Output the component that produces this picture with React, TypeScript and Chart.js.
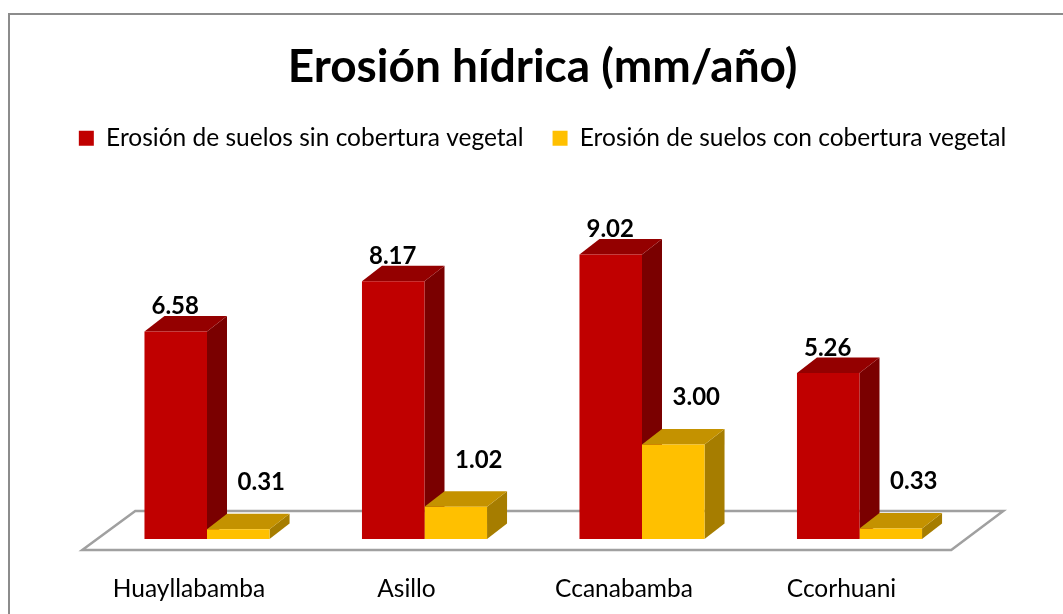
import React, { useEffect, useRef } from 'react';
import { Chart, registerables } from 'chart.js';

Chart.register(...registerables);

const titleText = 'Erosión hídrica (mm/año)';
const categories = ['Huayllabamba', 'Asillo', 'Ccanabamba', 'Ccorhuani'];
const seriesNames = [
  'Erosión de suelos sin cobertura vegetal',
  'Erosión de suelos con cobertura vegetal',
];
const sinCobertura = [6.58, 8.17, 9.02, 5.26];
const conCobertura = [0.31, 1.02, 3.0, 0.33];

const FONT = 'Lato';
const DEPTH_X = 20;
const DEPTH_Y = -15.5;

const faceColors = [
  { front: '#C00000', top: '#940000', side: '#7A0000' },
  { front: '#FFC000', top: '#C49200', side: '#A67D00' },
];
const labelShift = [
  { dx: -0.5, dy: -25 },
  { dx: 23, dy: -47 },
];

const poly = (ctx: CanvasRenderingContext2D, pts: number[][], fill: string) => {
  ctx.beginPath();
  ctx.moveTo(pts[0][0], pts[0][1]);
  for (let i = 1; i < pts.length; i++) ctx.lineTo(pts[i][0], pts[i][1]);
  ctx.closePath();
  ctx.fillStyle = fill;
  ctx.fill();
};

const threeD = {
  id: 'threeD',
  beforeDatasetsDraw(chart: any) {
    const { ctx, chartArea } = chart;
    const { left, right, bottom } = chartArea;
    ctx.save();
    // floor
    ctx.beginPath();
    ctx.moveTo(left - 16, bottom + 11);
    ctx.lineTo(right - 17, bottom + 11);
    ctx.lineTo(right + 35, bottom - 28);
    ctx.lineTo(left + 37, bottom - 28);
    ctx.closePath();
    ctx.fillStyle = '#FFFFFF';
    ctx.fill();
    ctx.lineWidth = 2.5;
    ctx.strokeStyle = '#A0A0A0';
    ctx.stroke();
    // extrusions: per category, red then yellow
    const n = chart.data.labels.length;
    for (let i = 0; i < n; i++) {
      for (let d = 0; d < chart.data.datasets.length; d++) {
        const meta = chart.getDatasetMeta(d);
        const el = meta.data[i];
        if (!el) continue;
        const { x, y, base, width } = el.getProps(['x', 'y', 'base', 'width'], true);
        const l = x - width / 2;
        const r = x + width / 2;
        const c = faceColors[d];
        poly(ctx, [[r, y], [r + DEPTH_X, y + DEPTH_Y], [r + DEPTH_X, base + DEPTH_Y], [r, base]], c.side);
        poly(ctx, [[l, y], [l + DEPTH_X, y + DEPTH_Y], [r + DEPTH_X, y + DEPTH_Y], [r, y]], c.top);
      }
    }
    ctx.restore();
  },
  afterDatasetsDraw(chart: any) {
    const { ctx } = chart;
    ctx.save();
    ctx.font = `bold 24px ${FONT}`;
    ctx.fillStyle = '#000000';
    ctx.textAlign = 'center';
    ctx.textBaseline = 'middle';
    chart.data.datasets.forEach((ds: any, d: number) => {
      const meta = chart.getDatasetMeta(d);
      meta.data.forEach((el: any, i: number) => {
        const { x, y } = el.getProps(['x', 'y'], true);
        ctx.fillText(Number(ds.data[i]).toFixed(2), x + labelShift[d].dx, y + labelShift[d].dy);
      });
    });
    ctx.restore();
  },
};

export default function App() {
  const ref = useRef<HTMLCanvasElement | null>(null);
  useEffect(() => {
    if (!ref.current) return;
    const chart = new Chart(ref.current, {
      type: 'bar',
      data: {
        labels: categories,
        datasets: [
          {
            label: seriesNames[0],
            data: sinCobertura,
            backgroundColor: faceColors[0].front,
            borderWidth: 0,
          },
          {
            label: seriesNames[1],
            data: conCobertura,
            backgroundColor: faceColors[1].front,
            borderWidth: 0,
          },
        ],
      },
      options: {
        animation: false,
        responsive: false,
        devicePixelRatio: 1,
        layout: { padding: { left: 30, right: 8, top: 0, bottom: 0 } },
        datasets: { bar: { barPercentage: 1, categoryPercentage: 0.575 } },
        plugins: {
          tooltip: { enabled: false },
          title: {
            display: true,
            text: titleText,
            color: '#000000',
            font: { family: FONT, size: 46, weight: 'bold', lineHeight: 1.2 },
            padding: { top: 40, bottom: 1.8 },
          },
          legend: {
            display: true,
            position: 'top',
            labels: {
              color: '#000000',
              font: { family: FONT, size: 24.5 },
              boxWidth: 15,
              boxHeight: 15,
              padding: 29,
            },
          },
        },
        scales: {
          x: {
            offset: true,
            grid: { display: false, drawTicks: false },
            border: { display: false },
            ticks: {
              color: '#000000',
              font: { family: FONT, size: 24.5 },
              padding: 35,
              labelOffset: -18,
            },
            afterFit: (s: any) => {
              s.height = 75;
            },
          },
          y: {
            min: 0,
            max: 12,
            grid: { display: false, drawTicks: false },
            border: { display: false },
            ticks: { display: false },
            afterFit: (s: any) => {
              s.width = 68.25;
            },
          },
          y2: {
            position: 'right',
            grid: { display: false, drawTicks: false },
            border: { display: false },
            ticks: { display: false },
            afterFit: (s: any) => {
              s.width = 86.75;
            },
          },
        },
      },
      plugins: [threeD],
    });
    return () => chart.destroy();
  }, []);

  return (
    <div style={{ position: 'fixed', left: 0, top: 0, width: 1063, height: 614, overflow: 'hidden', background: '#FFFFFF' }}>
      <div
        style={{
          position: 'absolute',
          left: 8,
          top: 13,
          width: 1100,
          height: 700,
          border: '2px solid #8C8C8C',
          boxSizing: 'border-box',
        }}
      />
      <canvas ref={ref} width={1063} height={614} style={{ position: 'absolute', left: 0, top: 0, width: 1063, height: 614 }} />
    </div>
  );
}
